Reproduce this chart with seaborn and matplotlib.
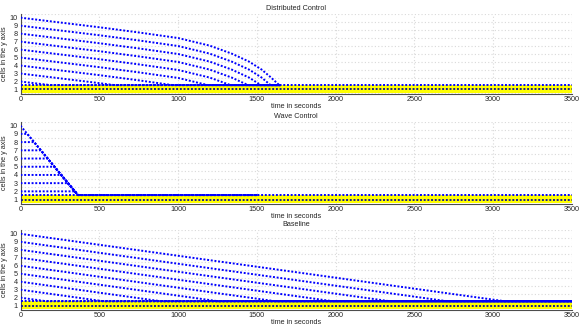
import numpy as np
import pandas as pd
import matplotlib
matplotlib.use("Agg")
import matplotlib.pyplot as plt
import seaborn as sns

# ---------------- data ----------------
titles = ["Distributed Control", "Wave Control", "Baseline"]
x_ticks = [0, 500, 1000, 1500, 2000, 2500, 3000, 3500]
y_ticks = [1, 2, 3, 4, 5, 6, 7, 8, 9, 10]

# Distributed control: one (times, values) pair per cell line, start level 2..10
dc_times = {
    2: [0, 190, 1650],
    3: [0, 250, 500, 596, 1650],
    4: [0, 250, 500, 750, 964, 1650],
    5: [0, 250, 500, 750, 1000, 1189, 1650],
    6: [0, 250, 500, 750, 1000, 1200, 1333, 1650],
    7: [0, 250, 500, 750, 1000, 1200, 1340, 1444, 1650],
    8: [0, 250, 500, 750, 1000, 1200, 1340, 1450, 1526, 1650],
    9: [0, 250, 500, 750, 1000, 1200, 1340, 1450, 1530, 1587, 1650],
    10: [0, 250, 500, 750, 1000, 1200, 1340, 1450, 1530, 1590, 1642, 1650],
}
dc_values = {
    2: [2, 1.55, 1.55],
    3: [3, 2.4, 1.8, 1.55, 1.55],
    4: [4, 3.4, 2.8, 2.15, 1.55, 1.55],
    5: [5, 4.4, 3.8, 3.15, 2.45, 1.55, 1.55],
    6: [6, 5.4, 4.8, 4.15, 3.45, 2.5, 1.55, 1.55],
    7: [7, 6.4, 5.8, 5.15, 4.45, 3.5, 2.5, 1.55, 1.55],
    8: [8, 7.4, 6.8, 6.15, 5.45, 4.5, 3.5, 2.5, 1.55, 1.55],
    9: [9, 8.4, 7.8, 7.15, 6.45, 5.5, 4.5, 3.5, 2.5, 1.55, 1.55],
    10: [10, 9.4, 8.8, 8.15, 7.45, 6.5, 5.5, 4.5, 3.5, 2.5, 1.55, 1.55],
}

# Wave control: wait at level until the wave front arrives, then slide down
wc_times = {
    2: [0, 345, 364, 1510],
    3: [0, 302, 364, 1510],
    4: [0, 258, 364, 1510],
    5: [0, 215, 364, 1510],
    6: [0, 172, 364, 1510],
    7: [0, 129, 364, 1510],
    8: [0, 86, 364, 1510],
    9: [0, 43, 364, 1510],
    10: [0, 0, 364, 1510],
}
wc_values = {k: [k, k, 1.55, 1.55] for k in range(2, 11)}

# Baseline: straight descent, same speed for every line
bl_times = {
    2: [0, 164, 3500],
    3: [0, 527, 3500],
    4: [0, 891, 3500],
    5: [0, 1255, 3500],
    6: [0, 1618, 3500],
    7: [0, 1982, 3500],
    8: [0, 2345, 3500],
    9: [0, 2709, 3500],
    10: [0, 3073, 3500],
}
bl_values = {k: [k, 1.55, 1.55] for k in range(2, 11)}

panels = [(dc_times, dc_values), (wc_times, wc_values), (bl_times, bl_values)]

# common lines in every panel
cell1_t = [0, 3500]
cell1_top = [1.55, 1.55]
cell1_mid = [1.0, 1.0]

# ---------------- figure ----------------
sns.set_theme(style="white")
plt.rcParams['font.family'] = ['Liberation Sans', 'DejaVu Sans']

fig = plt.figure(figsize=(5.81, 3.26), dpi=100)
left, right = 0.0353, 0.9845
boxes = [(0.712, 0.958), (0.374, 0.627), (0.049, 0.295)]
blue = (0, 0, 1)
dot = (0, (1, 0.9))
FS = 5.2

for i, ((tdict, vdict), (b, t)) in enumerate(zip(panels, boxes)):
    ax = fig.add_axes([left, b, right - left, t - b])
    ax.set_xlim(0, 3500)
    ax.set_ylim(0.45, 10.5)

    # yellow band for cell 1
    ax.axhspan(0.55, 1.52, color=(1, 1, 0), zorder=1, lw=0)

    for k in range(2, 11):
        df = pd.DataFrame({"t": tdict[k], "y": vdict[k]})
        sns.lineplot(data=df, x="t", y="y", ax=ax, sort=False, estimator=None,
                     color=blue, lw=1.4, linestyle=dot, zorder=3)
    df = pd.DataFrame({"t": cell1_t, "y": cell1_top})
    sns.lineplot(data=df, x="t", y="y", ax=ax, sort=False, estimator=None,
                 color=blue, lw=1.4, linestyle=dot, zorder=3)
    df = pd.DataFrame({"t": cell1_t, "y": cell1_mid})
    sns.lineplot(data=df, x="t", y="y", ax=ax, sort=False, estimator=None,
                 color=(0.1, 0.1, 0.55), lw=1.4, linestyle=dot, zorder=3)

    ax.set_xticks(x_ticks)
    ax.set_xticklabels([str(v) for v in x_ticks], fontsize=FS)
    ax.set_yticks(y_ticks)
    ax.set_yticklabels([str(v) for v in y_ticks], fontsize=FS)
    ax.set_yticks(np.arange(0.5, 11, 1.0), minor=True)
    ax.tick_params(axis='y', which='major', length=0, pad=2)
    ax.tick_params(axis='y', which='minor', length=3, direction='in', color='0.6')
    ax.tick_params(axis='x', which='major', length=2, direction='in', pad=1.5, color='0.3')
    ax.grid(True, axis='x', which='major', linestyle=(0, (1, 2)), color='0.85', lw=0.8)
    ax.grid(True, axis='y', which='minor', linestyle=(0, (1, 2)), color='0.85', lw=0.8)
    ax.grid(False, axis='y', which='major')
    for s in ['top', 'right']:
        ax.spines[s].set_visible(False)
    for s in ['left', 'bottom']:
        ax.spines[s].set_color('0.3')
        ax.spines[s].set_linewidth(0.8)
    ax.set_title(titles[i], fontsize=FS, pad=2.5)
    ax.set_xlabel("time in seconds", fontsize=FS, labelpad=0)
    ax.set_ylabel("cells in the y axis", fontsize=FS, labelpad=1.5)

fig.savefig("out.png", dpi=100)
